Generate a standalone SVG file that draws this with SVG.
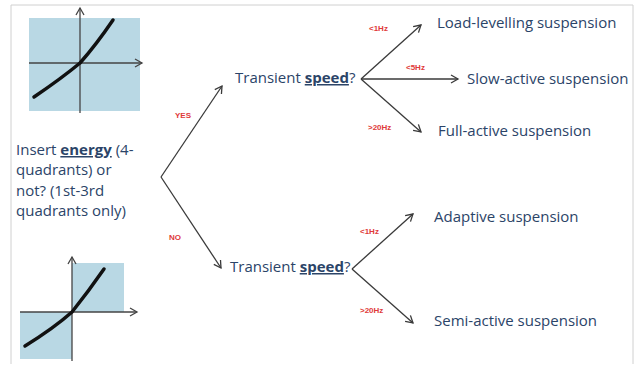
<svg xmlns="http://www.w3.org/2000/svg" width="644" height="366" viewBox="0 0 644 366">
<style>
  .t { font-family: "Open Sans", "Liberation Sans", sans-serif; font-size: 15px; fill: #2b4468; }
  .b { font-weight: bold; text-decoration: underline; }
  .lbl { font-family: "Liberation Sans", sans-serif; font-size: 8px; font-weight: bold; fill: #e03a3a; }
  .con { stroke: #3a3a3a; stroke-width: 1.3; fill: none; marker-end: url(#ah); }
  .axa { stroke: #444; stroke-width: 1.3; fill: none; marker-end: url(#ah2); }
  .curve { stroke: #111; stroke-width: 3.5; fill: none; stroke-linecap: round; }
  .q { fill: #b9d8e4; }
</style>
<defs>
  <marker id="ah" markerWidth="10" markerHeight="10" refX="8" refY="5" orient="auto" markerUnits="userSpaceOnUse">
    <polyline points="1,1 8,5 1,9" fill="none" stroke="#3a3a3a" stroke-width="1.3"/>
  </marker>
  <marker id="ah2" markerWidth="10" markerHeight="10" refX="8" refY="5" orient="auto" markerUnits="userSpaceOnUse">
    <polyline points="1,1 8,5 1,9" fill="none" stroke="#444" stroke-width="1.3"/>
  </marker>
</defs>
<rect width="644" height="366" fill="#fff"/>
<polyline points="11,364 11,5 633,5 633,364" fill="none" stroke="#d0d0d0" stroke-width="1"/>

<g id="graph-4q">
  <rect class="q" x="29" y="18" width="111" height="93"/>
  <line class="axa" x1="80" y1="113" x2="80" y2="8"/>
  <line class="axa" x1="29" y1="63" x2="142" y2="63"/>
  <path class="curve" d="M34,97 Q62,78 80,63 Q96,45 113,20"/>
</g>

<g id="graph-2q">
  <rect class="q" x="72" y="263" width="52" height="49"/>
  <rect class="q" x="20" y="312" width="52" height="47"/>
  <line class="axa" x1="72" y1="361" x2="72" y2="257"/>
  <line class="axa" x1="20" y1="312" x2="137" y2="312"/>
  <path class="curve" d="M25,346 Q54,328 72,312 Q88,292 104,269"/>
</g>

<g id="question">
  <text class="t" x="16" y="155">Insert <tspan class="b">energy</tspan> (4-</text>
  <text class="t" x="16" y="175">quadrants) or</text>
  <text class="t" x="16" y="196">not? (1st-3rd</text>
  <text class="t" x="16" y="216">quadrants only)</text>
</g>

<g id="speed-yes">
  <text class="t" x="235" y="83">Transient <tspan class="b">speed</tspan>?</text>
</g>
<g id="speed-no">
  <text class="t" x="230" y="272">Transient <tspan class="b">speed</tspan>?</text>
</g>

<g id="load-levelling"><text class="t" x="437" y="28">Load-levelling suspension</text></g>
<g id="slow-active"><text class="t" x="467" y="84">Slow-active suspension</text></g>
<g id="full-active"><text class="t" x="438" y="136">Full-active suspension</text></g>
<g id="adaptive"><text class="t" x="434" y="222">Adaptive suspension</text></g>
<g id="semi-active"><text class="t" x="434" y="326">Semi-active suspension</text></g>

<g id="connectors">
  <line class="con" x1="161" y1="177" x2="222" y2="86"/>
  <line class="con" x1="161" y1="177" x2="221" y2="268"/>
  <line class="con" x1="361" y1="79" x2="421" y2="25"/>
  <line class="con" x1="361" y1="79" x2="458" y2="79"/>
  <line class="con" x1="361" y1="79" x2="421" y2="132"/>
  <line class="con" x1="352" y1="269" x2="413" y2="214"/>
  <line class="con" x1="352" y1="269" x2="413" y2="323"/>
  <text class="lbl" x="175" y="118">YES</text>
  <text class="lbl" x="169" y="240">NO</text>
  <text class="lbl" x="369" y="31">&lt;1Hz</text>
  <text class="lbl" x="406" y="70">&lt;5Hz</text>
  <text class="lbl" x="368" y="130">&gt;20Hz</text>
  <text class="lbl" x="360" y="234">&lt;1Hz</text>
  <text class="lbl" x="360" y="313">&gt;20Hz</text>
</g>
</svg>
